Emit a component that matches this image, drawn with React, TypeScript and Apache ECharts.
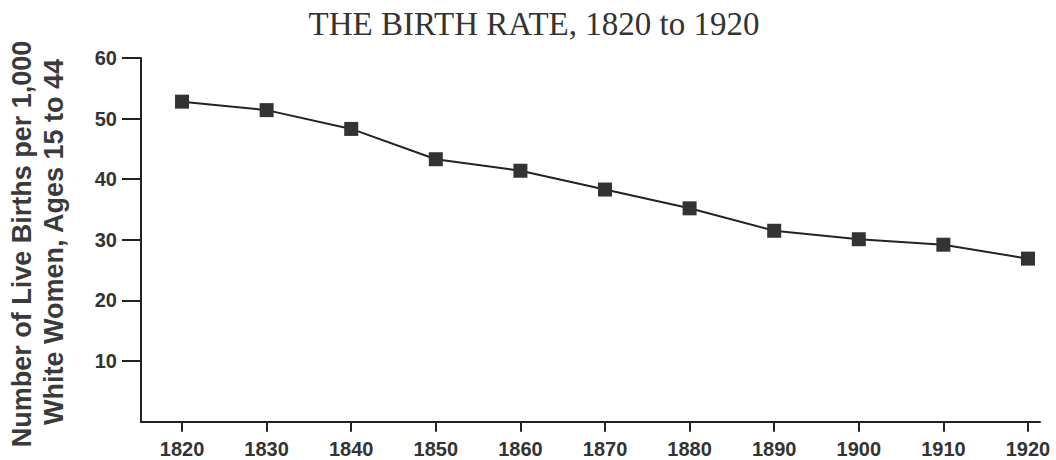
import React, { useEffect, useRef } from "react";
import * as echarts from "echarts";

const years = [1820, 1830, 1840, 1850, 1860, 1870, 1880, 1890, 1900, 1910, 1920];
const birthRate = [52.8, 51.4, 48.3, 43.3, 41.4, 38.3, 35.2, 31.5, 30.1, 29.2, 26.9];
const yTicks = [10, 20, 30, 40, 50, 60];
const titleText = "THE BIRTH RATE, 1820 to 1920";
const yNameLine1 = "Number of Live Births per 1,000";
const yNameLine2 = "White Women, Ages 15 to 44";

export default function App() {
  const ref = useRef<HTMLDivElement>(null);
  useEffect(() => {
    if (!ref.current) return;
    const chart = echarts.init(ref.current, null, { renderer: "svg" });
    const axisColor = "#222";
    chart.setOption({
      animation: false,
      backgroundColor: "#fff",
      grid: { left: 141, top: 58, width: 899, height: 363.7 },
      xAxis: {
        type: "value",
        min: 1815.15,
        max: 1921.42,
        axisLine: { show: true, lineStyle: { color: axisColor, width: 2 } },
        axisTick: {
          show: true,
          customValues: years,
          length: 10,
          lineStyle: { color: axisColor, width: 2 },
        },
        axisLabel: {
          customValues: years,
          formatter: (v: number) => String(v),
          margin: 17,
          color: "#333",
          fontFamily: "Liberation Sans, Arial, sans-serif",
          fontWeight: "bold",
          fontSize: 20,
        },
        splitLine: { show: false },
      },
      yAxis: {
        type: "value",
        min: 0,
        max: 60,
        interval: 10,
        axisLine: { show: true, lineStyle: { color: axisColor, width: 2 } },
        axisTick: {
          show: true,
          customValues: yTicks,
          length: 19,
          lineStyle: { color: axisColor, width: 2 },
        },
        axisLabel: {
          customValues: yTicks,
          formatter: (v: number) => String(v),
          margin: 24,
          color: "#333",
          fontFamily: "Liberation Sans, Arial, sans-serif",
          fontWeight: "bold",
          fontSize: 20,
        },
        splitLine: { show: false },
      },
      series: [
        {
          type: "line",
          data: years.map((y, i) => [y, birthRate[i]]),
          symbol: "rect",
          symbolSize: 14,
          itemStyle: { color: "#333" },
          lineStyle: { color: "#222", width: 2 },
        },
      ],
      graphic: [
        {
          type: "text",
          x: 534,
          y: 24,
          style: {
            text: titleText,
            fill: "#333",
            font: "33px 'Liberation Serif', 'Times New Roman', serif",
            textAlign: "center",
            textVerticalAlign: "middle",
          },
        },
        {
          type: "text",
          x: 22,
          y: 244,
          rotation: Math.PI / 2,
          style: {
            text: yNameLine1,
            fill: "#3a3a3a",
            font: "bold 27px 'Liberation Sans', Arial, sans-serif",
            textAlign: "center",
            textVerticalAlign: "middle",
          },
        },
        {
          type: "text",
          x: 54,
          y: 242,
          rotation: Math.PI / 2,
          style: {
            text: yNameLine2,
            fill: "#3a3a3a",
            font: "bold 27px 'Liberation Sans', Arial, sans-serif",
            textAlign: "center",
            textVerticalAlign: "middle",
          },
        },
      ],
    });
    return () => chart.dispose();
  }, []);
  return (
    <div
      ref={ref}
      style={{ position: "fixed", left: 0, top: 0, width: 1056, height: 460 }}
    />
  );
}
